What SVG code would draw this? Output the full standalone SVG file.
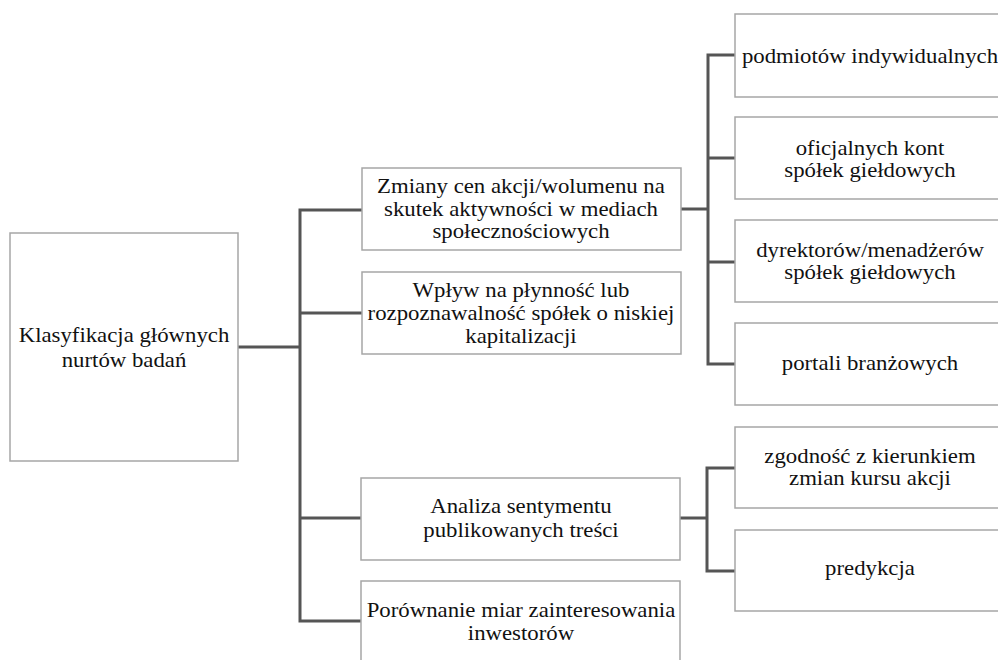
<svg xmlns="http://www.w3.org/2000/svg" width="998" height="660" viewBox="0 0 998 660">
<style>
.box{fill:#fff;stroke:#a6a6a6;stroke-width:1.5}
.t{font-family:'Liberation Serif','DejaVu Serif',serif;font-size:21.5px;fill:#111;text-anchor:middle}
.c{fill:none;stroke:#555;stroke-width:3;stroke-linecap:square}
</style>
<rect width="998" height="660" fill="#fff"/>
<g id="connectors">
<path class="c" d="M238,347H300M300,210V621M300,210H362M300,313H362M300,518H361M300,621H361"/>
<path class="c" d="M681,209H708M708,55V364M708,55H735M708,158H735M708,262H735M708,364H735"/>
<path class="c" d="M680,518H707M707,468V571M707,468H735M707,571H735"/>
</g>
<g id="root"><rect class="box" x="10" y="233" width="228" height="228"/>
<g transform="translate(124,0) scale(1.06,1) translate(-124,0)"><text class="t" x="124" y="342">Klasyfikacja głównych</text><text class="t" x="124" y="367">nurtów badań</text></g></g>
<g id="zmiany"><rect class="box" x="362" y="168" width="319" height="82"/>
<g transform="translate(521,0) scale(1.06,1) translate(-521,0)"><text class="t" x="521" y="193">Zmiany cen akcji/wolumenu na</text><text class="t" x="521" y="216">skutek aktywności w mediach</text><text class="t" x="521" y="238">społecznościowych</text></g></g>
<g id="wplyw"><rect class="box" x="362" y="272" width="319" height="82"/>
<g transform="translate(521,0) scale(1.06,1) translate(-521,0)"><text class="t" x="521" y="297">Wpływ na płynność lub</text><text class="t" x="521" y="320">rozpoznawalność spółek o niskiej</text><text class="t" x="521" y="343">kapitalizacji</text></g></g>
<g id="analiza"><rect class="box" x="361" y="478" width="319" height="82"/>
<g transform="translate(521,0) scale(1.06,1) translate(-521,0)"><text class="t" x="521" y="513">Analiza sentymentu</text><text class="t" x="521" y="537">publikowanych treści</text></g></g>
<g id="porownanie"><rect class="box" x="361" y="581" width="319" height="90"/>
<g transform="translate(521,0) scale(1.06,1) translate(-521,0)"><text class="t" x="521" y="617">Porównanie miar zainteresowania</text><text class="t" x="521" y="640">inwestorów</text></g></g>
<g id="podmiotow"><rect class="box" x="735" y="14" width="270" height="83"/>
<g transform="translate(870,0) scale(1.06,1) translate(-870,0)"><text class="t" x="870" y="63">podmiotów indywidualnych</text></g></g>
<g id="oficjalnych"><rect class="box" x="735" y="117" width="270" height="82"/>
<g transform="translate(870,0) scale(1.06,1) translate(-870,0)"><text class="t" x="870" y="155">oficjalnych kont</text><text class="t" x="870" y="177">spółek giełdowych</text></g></g>
<g id="dyrektorow"><rect class="box" x="735" y="220" width="270" height="82"/>
<g transform="translate(870,0) scale(1.06,1) translate(-870,0)"><text class="t" x="870" y="257">dyrektorów/menadżerów</text><text class="t" x="870" y="279">spółek giełdowych</text></g></g>
<g id="portali"><rect class="box" x="735" y="323" width="270" height="82"/>
<g transform="translate(870,0) scale(1.06,1) translate(-870,0)"><text class="t" x="870" y="370">portali branżowych</text></g></g>
<g id="zgodnosc"><rect class="box" x="735" y="427" width="270" height="81"/>
<g transform="translate(870,0) scale(1.06,1) translate(-870,0)"><text class="t" x="870" y="463">zgodność z kierunkiem</text><text class="t" x="870" y="485">zmian kursu akcji</text></g></g>
<g id="predykcja"><rect class="box" x="735" y="530" width="270" height="81"/>
<g transform="translate(870,0) scale(1.06,1) translate(-870,0)"><text class="t" x="870" y="575">predykcja</text></g></g>
</svg>
